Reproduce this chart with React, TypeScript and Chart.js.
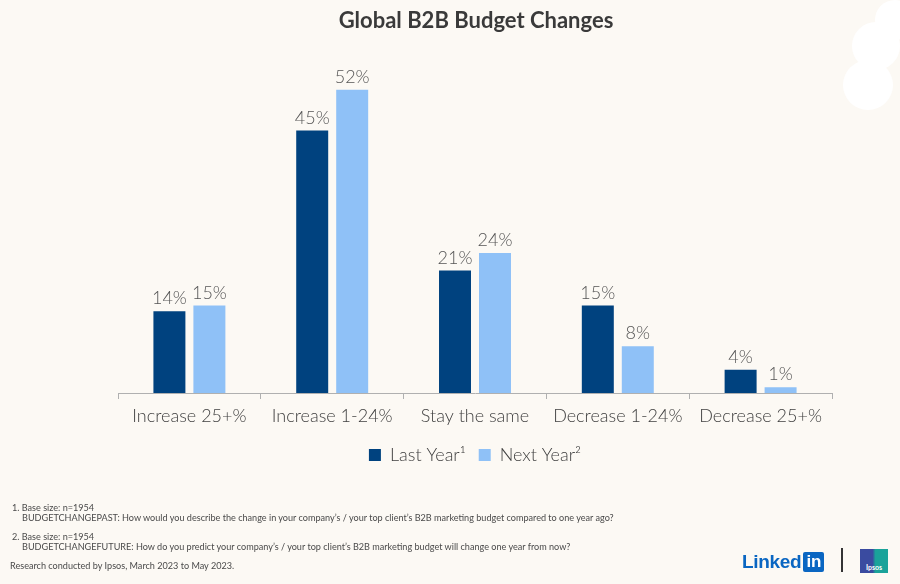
import React, { useEffect, useRef } from "react";
import { Chart, registerables } from "chart.js";

Chart.register(...registerables);

const categories = ["Increase 25+%", "Increase 1-24%", "Stay the same", "Decrease 1-24%", "Decrease 25+%"];
const lastYear = [14, 45, 21, 15, 4];
const nextYear = [15, 52, 24, 8, 1];
const seriesNames = ["Last Year\u00B9", "Next Year\u00B2"];
const title = "Global B2B Budget Changes";
const footnotes = [
  "1. Base size: n=1954",
  "BUDGETCHANGEPAST: How would you describe the change in your company\u2019s / your top client\u2019s B2B marketing budget compared to one year ago?",
  "2. Base size: n=1954",
  "BUDGETCHANGEFUTURE: How do you predict your company\u2019s / your top client\u2019s  B2B marketing budget will change one year from now?",
  "Research conducted by Ipsos, March 2023 to May 2023.",
];

const BG = "#FCF9F4";
const FONT = "Lato, 'Open Sans', sans-serif";

const valueLabels = {
  id: "valueLabels",
  afterDatasetsDraw(chart: any) {
    const ctx = chart.ctx;
    ctx.save();
    ctx.font = `300 18px ${FONT}`;
    ctx.fillStyle = "#555555";
    ctx.textAlign = "center";
    ctx.textBaseline = "alphabetic";
    chart.data.datasets.forEach((ds: any, i: number) => {
      const meta = chart.getDatasetMeta(i);
      meta.data.forEach((bar: any, j: number) => {
        ctx.fillText(ds.data[j] + "%", bar.x, bar.y - 7);
      });
    });
    ctx.restore();
  },
};

export default function App() {
  const ref = useRef<HTMLCanvasElement>(null);
  useEffect(() => {
    if (!ref.current) return;
    const chart = new Chart(ref.current, {
      type: "bar",
      data: {
        labels: categories,
        datasets: [
          { label: seriesNames[0], data: lastYear, backgroundColor: "#00427F", borderWidth: 0 },
          { label: seriesNames[1], data: nextYear, backgroundColor: "#8FC1F7", borderWidth: 0 },
        ],
      },
      options: {
        animation: false,
        responsive: false,
        maintainAspectRatio: false,
        categoryPercentage: 0.56,
        barPercentage: 0.8,
        layout: { padding: { left: 118, right: 68, top: 43, bottom: 110 } },
        plugins: {
          title: { display: false },
          tooltip: { enabled: false },
          legend: {
            display: true,
            position: "bottom",
            labels: {
              boxWidth: 12,
              boxHeight: 12,
              padding: 13,
              color: "#404040",
              font: { family: FONT, size: 18, weight: "300" as any },
            },
          },
        },
        scales: {
          x: {
            offset: true,
            grid: {
              display: true,
              drawOnChartArea: false,
              drawTicks: true,
              tickLength: 6,
              color: "#B0B0B0",
              offset: true,
            },
            border: { display: true, color: "#B0B0B0", width: 1 },
            ticks: {
              color: "#404040",
              padding: 8,
              font: { family: FONT, size: 18, weight: "300" as any, lineHeight: 1.0 },
              maxRotation: 0,
            },
          },
          y: {
            display: false,
            min: 0,
            max: 60,
          },
        },
      },
      plugins: [valueLabels],
    });
    return () => chart.destroy();
  }, []);

  return (
    <div style={{ position: "fixed", left: 0, top: 0, width: 900, height: 584, background: BG, overflow: "hidden", fontFamily: FONT }}>
      <div style={{ position: "absolute", left: 852, top: 22, width: 48, height: 48, borderRadius: "50%", background: "#FFFFFF" }} />
      <div style={{ position: "absolute", left: 843, top: 60, width: 50, height: 50, borderRadius: "50%", background: "#FFFFFF" }} />
      <div style={{ position: "absolute", left: 875, top: 0, width: 40, height: 40, borderRadius: "50%", background: "#FFFFFF" }} />
      <canvas ref={ref} width={900} height={584} style={{ position: "absolute", left: 0, top: 0, width: 900, height: 584 }} />
      <div style={{ position: "absolute", left: 0, width: 952, top: 6, textAlign: "center", fontSize: 22, fontWeight: 700, color: "#3A3A3A" }}>{title}</div>
      <div style={{ position: "absolute", left: 12, top: 503, fontSize: 9.1, color: "#4A4A4A", lineHeight: "10px", fontWeight: 400 }}>
        <div>{footnotes[0]}</div>
        <div style={{ paddingLeft: 10 }}>{footnotes[1]}</div>
        <div style={{ marginTop: 9 }}>{footnotes[2]}</div>
        <div style={{ paddingLeft: 10 }}>{footnotes[3]}</div>
        <div style={{ marginTop: 9, marginLeft: -2 }}>{footnotes[4]}</div>
      </div>
      <div style={{ position: "absolute", left: 742, top: 551, display: "flex", alignItems: "center" }}>
        <span style={{ fontFamily: "'Liberation Sans', Arial, sans-serif", fontWeight: 700, fontSize: 19, color: "#0A66C2", letterSpacing: -0.3 }}>Linked</span>
        <span style={{ marginLeft: 2, background: "#0A66C2", color: "#FFFFFF", fontFamily: "'Liberation Sans', Arial, sans-serif", fontWeight: 700, fontSize: 17, lineHeight: "20px", width: 21, height: 20, borderRadius: 2, textAlign: "center" }}>in</span>
      </div>
      <div style={{ position: "absolute", left: 841, top: 548, width: 1.5, height: 24, background: "#333" }} />
      <div style={{ position: "absolute", left: 860, top: 549, width: 28, height: 24, background: "linear-gradient(90deg, #3A4BA0 0%, #3A4BA0 45%, #1AA39A 55%, #1AA39A 100%)", color: "#fff", fontSize: 7, fontWeight: 700, display: "flex", alignItems: "flex-end", justifyContent: "center", paddingBottom: 2, boxSizing: "border-box" }}>Ipsos</div>
    </div>
  );
}
